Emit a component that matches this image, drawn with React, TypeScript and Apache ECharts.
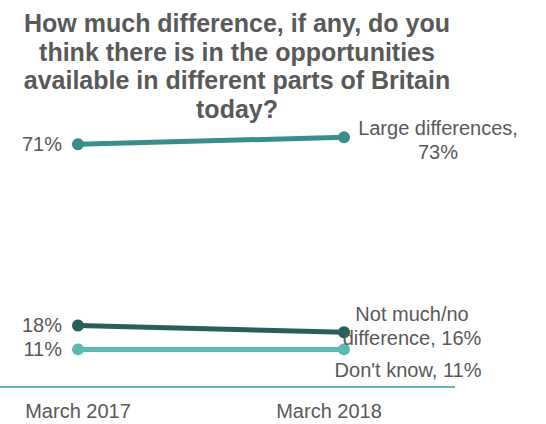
import React, { useEffect, useRef } from "react";
import * as echarts from "echarts";

const titleText =
  "How much difference, if any, do you\nthink there is in the opportunities\navailable in different parts of Britain\ntoday?";
const categories = ["March 2017", "March 2018"];
const largeDiff = [71, 73];
const notMuch = [18, 16];
const dontKnow = [11, 11];
const seriesNames = ["Large differences,", "Not much/no\ndifference,", "Don't know,"];

const TEXT = "#595959";
const FONT = "'Liberation Sans', Arial, sans-serif";

export default function App() {
  const ref = useRef<HTMLDivElement>(null);
  useEffect(() => {
    const chart = echarts.init(ref.current!, null, { renderer: "svg" });

    const labelStyle = { color: TEXT, fontSize: 20, fontFamily: FONT };

    const mkSeries = (vals: number[], name: string, color: string, off: number[], fmt: (v: number) => string) => ({
      type: "line",
      name,
      data: vals.map((v, i) =>
        i === 0
          ? { value: v, label: { show: true, position: "left", distance: 10, formatter: `${v}%`, ...labelStyle } }
          : {
              value: v,
              label: {
                show: true,
                position: "inside",
                offset: off,
                align: "center",
                verticalAlign: "middle",
                lineHeight: 24,
                formatter: fmt(v),
                ...labelStyle,
              },
            }
      ),
      symbol: "circle",
      symbolSize: 12,
      lineStyle: { color, width: 5 },
      itemStyle: { color },
      z: 3,
    });

    chart.setOption({
      animation: false,
      title: {
        text: titleText,
        left: 232,
        top: 4,
        textAlign: "center",
        textStyle: {
          color: TEXT,
          fontSize: 25,
          fontWeight: "bold",
          fontFamily: FONT,
          lineHeight: 28.5,
        },
      },
      grid: { left: 78, right: 202, top: 45, bottom: 37 },
      xAxis: {
        type: "category",
        data: categories,
        boundaryGap: false,
        axisLine: { show: false },
        axisTick: { show: false },
        axisLabel: {
          margin: 14,
          color: TEXT,
          fontSize: 20,
          fontFamily: FONT,
          formatter: (v: string, i: number) => (i === 1 ? `{b|${v}}` : `{a|${v}}`),
          rich: {
            a: { color: TEXT, fontSize: 20, fontFamily: FONT },
            b: { color: TEXT, fontSize: 20, fontFamily: FONT, padding: [0, 30, 0, 0] },
          },
        },
      },
      yAxis: { type: "value", min: 0, max: 100, show: false },
      series: [
        mkSeries(largeDiff, "Large differences", "#3A8E89", [94, 2.5], (v) => `${seriesNames[0]}\n${v}%`),
        mkSeries(notMuch, "Not much/no difference", "#2A5E5B", [68, -6], (v) => `${seriesNames[1]} ${v}%`),
        mkSeries(dontKnow, "Don't know", "#5BB9B4", [64, 20.5], (v) => `${seriesNames[2]} ${v}%`),
      ],
      graphic: [
        {
          type: "line",
          shape: { x1: 0, y1: 387, x2: 455, y2: 387 },
          style: { stroke: "#5BB9B4", lineWidth: 2 },
        },
      ],
    });
    return () => chart.dispose();
  }, []);
  return <div ref={ref} style={{ width: 546, height: 424, position: "absolute", left: 0, top: 0 }} />;
}
